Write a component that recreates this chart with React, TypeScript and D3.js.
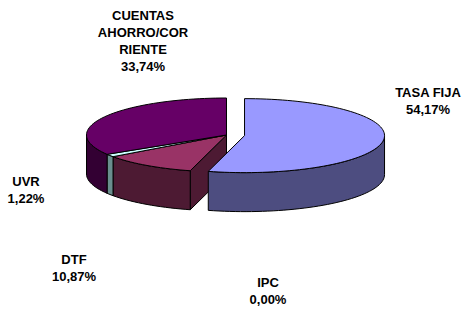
import * as d3 from "d3";

// datos del gráfico
const categories = ["TASA FIJA", "IPC", "DTF", "UVR", "CUENTAS AHORRO/CORRIENTE"];
const values = [54.17, 0.0, 10.87, 1.22, 33.74];
const labelLines = [
  ["TASA FIJA", "54,17%"],
  ["IPC", "0,00%"],
  ["DTF", "10,87%"],
  ["UVR", "1,22%"],
  ["CUENTAS", "AHORRO/COR", "RIENTE", "33,74%"],
];
const topColors = ["#9999FF", "#993366", "#993366", "#CCFFFF", "#660066"];
const sideColors = ["#4D4D80", "#4D1A33", "#4D1A33", "#6A8E8E", "#330033"];

// posición de las etiquetas (centro x, primera línea base)
const labelAnchors: [number, number][] = [
  [428, 97],
  [268, 287],
  [74, 264],
  [26, 186],
  [143, 20],
];

const W = 463;
const H = 309;
const cx = 226.5;
const cy = 135;
const rx = 140;
const ry = 37;
const depth = 39;
const explodeIndex = 0;
const explodeK = 0.13;
const lineH = 17;

type Slice = d3.PieArcDatum<number>;

function pt(ox: number, oy: number, a: number, dz = 0): [number, number] {
  return [ox + rx * Math.sin(a), oy - ry * Math.cos(a) + dz];
}

function arcPts(ox: number, oy: number, a0: number, a1: number, dz = 0) {
  const n = Math.max(2, Math.ceil(((a1 - a0) / (2 * Math.PI)) * 160));
  return d3.range(n + 1).map((i) => pt(ox, oy, a0 + ((a1 - a0) * i) / n, dz));
}

const line = (p: [number, number][]) => "M" + p.map((d) => d.join(",")).join("L") + "Z";

export default function App() {
  const arcs = d3
    .pie<number>()
    .sort(null)
    .startAngle(0)
    .endAngle(2 * Math.PI)(values);

  const origin = (i: number): [number, number] => {
    if (i !== explodeIndex) return [cx, cy];
    const m = (arcs[i].startAngle + arcs[i].endAngle) / 2;
    return [cx + explodeK * rx * Math.sin(m), cy - explodeK * ry * Math.cos(m)];
  };

  const isExploded = (i: number) => i === explodeIndex;
  const neighbourExploded = (i: number, dir: number) => {
    const n = arcs.length;
    let j = (i + dir + n) % n;
    // saltar rebanadas vacías
    while (arcs[j].endAngle - arcs[j].startAngle === 0 && j !== i) j = (j + dir + n) % n;
    return isExploded(j);
  };

  const drawSlice = (d: Slice, i: number) => {
    if (d.endAngle - d.startAngle <= 0) return null;
    const [ox, oy] = origin(i);
    const a0 = d.startAngle;
    const a1 = d.endAngle;
    const parts: JSX.Element[] = [];
    const showEdges = isExploded(i);

    // pared radial del inicio
    if (Math.sin(a0) < -1e-6 && (showEdges || neighbourExploded(i, -1))) {
      const p = pt(ox, oy, a0);
      parts.push(
        <path
          key="s0"
          d={line([[ox, oy], p, [p[0], p[1] + depth], [ox, oy + depth]])}
          fill={sideColors[i]}
          stroke="#000"
          strokeWidth={1}
          strokeLinejoin="round"
        />
      );
    }
    // pared radial del final
    if (Math.sin(a1) > 1e-6 && (showEdges || neighbourExploded(i, 1))) {
      const p = pt(ox, oy, a1);
      parts.push(
        <path
          key="s1"
          d={line([[ox, oy], p, [p[0], p[1] + depth], [ox, oy + depth]])}
          fill={sideColors[i]}
          stroke="#000"
          strokeWidth={1}
          strokeLinejoin="round"
        />
      );
    }
    // pared exterior frontal
    const w0 = Math.max(a0, Math.PI / 2);
    const w1 = Math.min(a1, (3 * Math.PI) / 2);
    if (w1 > w0) {
      const top = arcPts(ox, oy, w0, w1);
      const bot = arcPts(ox, oy, w0, w1, depth).reverse();
      parts.push(
        <path
          key="w"
          d={line([...top, ...bot])}
          fill={sideColors[i]}
          stroke="#000"
          strokeWidth={1}
          strokeLinejoin="round"
        />
      );
    }
    // cara superior
    parts.push(
      <path
        key="t"
        d={line([[ox, oy], ...arcPts(ox, oy, a0, a1)])}
        fill={topColors[i]}
        stroke="#000"
        strokeWidth={1}
        strokeLinejoin="round"
      />
    );
    return <g key={categories[i]}>{parts}</g>;
  };

  const order = d3.range(arcs.length).sort((a, b) => (isExploded(a) ? 1 : 0) - (isExploded(b) ? 1 : 0));

  return (
    <svg
      width={W}
      height={H}
      viewBox={`0 0 ${W} ${H}`}
      style={{ position: "absolute", left: 0, top: 0, background: "#fff" }}
    >
      <rect width={W} height={H} fill="#fff" />
      {order.map((i) => drawSlice(arcs[i], i))}
      <g fontFamily="'Liberation Sans', Arial, sans-serif" fontWeight="bold" fontSize={13} fill="#000" textAnchor="middle">
        {labelLines.map((lines, i) => (
          <text key={categories[i]} x={labelAnchors[i][0]} y={labelAnchors[i][1]}>
            {lines.map((t, k) => (
              <tspan key={k} x={labelAnchors[i][0]} dy={k === 0 ? 0 : lineH}>
                {t}
              </tspan>
            ))}
          </text>
        ))}
      </g>
    </svg>
  );
}
